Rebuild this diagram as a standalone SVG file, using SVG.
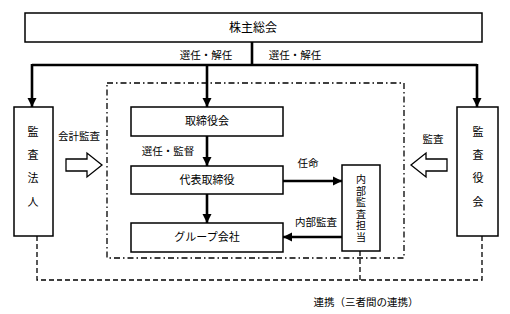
<svg xmlns="http://www.w3.org/2000/svg" width="510" height="314" viewBox="0 0 510 314">
<style>
text{font-family:"Noto Sans CJK JP","Noto Sans CJK SC",sans-serif;font-size:10.5px;fill:#000;text-anchor:middle}
.box{fill:#fff;stroke:#000;stroke-width:1.5}
.thick{fill:none;stroke:#000;stroke-width:2.6}
.dash{fill:none;stroke:#000;stroke-width:1.3;stroke-dasharray:5,3}
.dashdot{fill:none;stroke:#000;stroke-width:1.3;stroke-dasharray:6,3,1.5,3}
.hollow{fill:#fff;stroke:#000;stroke-width:1.3}
.v{font-size:11px}
.vert{font-size:10px;writing-mode:vertical-rl;text-orientation:upright;letter-spacing:1.6px}
</style>
<defs>
<marker id="ah" viewBox="0 0 10 10" refX="10" refY="5" markerWidth="3.6" markerHeight="3.6" orient="auto" markerUnits="strokeWidth">
<path d="M0,0 L10,5 L0,10 z" fill="#000"/>
</marker>
</defs>
<rect width="510" height="314" fill="#fff"/>
<g id="connectors">
<rect class="dashdot" x="107" y="83" width="297" height="175"/>
<polyline class="dash" points="37,236 37,280 482,280 482,236"/>
<line class="dash" x1="360" y1="251" x2="360" y2="280"/>
<polyline class="thick" points="252,42 252,65"/>
<polyline class="thick" points="32,65 477,65"/>
<line class="thick" x1="32" y1="64" x2="32" y2="107" marker-end="url(#ah)"/>
<line class="thick" x1="477" y1="64" x2="477" y2="107" marker-end="url(#ah)"/>
<line class="thick" x1="207" y1="65" x2="207" y2="107" marker-end="url(#ah)"/>
<line class="thick" x1="207" y1="136" x2="207" y2="166" marker-end="url(#ah)"/>
<line class="thick" x1="207" y1="194" x2="207" y2="223" marker-end="url(#ah)"/>
<line class="thick" x1="283" y1="181" x2="342" y2="181" marker-end="url(#ah)"/>
<line class="thick" x1="342" y1="237" x2="283" y2="237" marker-end="url(#ah)"/>
<path class="hollow" d="M66,159 L87,159 L87,153 L102,165 L87,177 L87,171 L66,171 Z"/>
<path class="hollow" d="M447,159 L426,159 L426,153 L411,165 L426,177 L426,171 L447,171 Z"/>
<text x="206" y="59">選任・解任</text>
<text x="295" y="59">選任・解任</text>
<text x="79" y="140">会計監査</text>
<text x="433" y="143">監査</text>
<text x="168" y="155">選任・監督</text>
<text x="308" y="167">任命</text>
<text x="316" y="226">内部監査</text>
<text x="366" y="306">連携（三者間の連携）</text>
</g>
<g id="shareholders">
<rect class="box" x="25" y="13" width="457" height="29"/>
<text x="253" y="32" style="font-size:12px">株主総会</text>
</g>
<g id="auditfirm">
<rect class="box" x="14" y="107" width="39" height="129"/>
<text class="v" x="33" y="136">監</text>
<text class="v" x="33" y="159">査</text>
<text class="v" x="33" y="182">法</text>
<text class="v" x="33" y="206">人</text>
</g>
<g id="auditboard">
<rect class="box" x="457" y="107" width="41" height="129"/>
<text class="v" x="478" y="136">監</text>
<text class="v" x="478" y="159">査</text>
<text class="v" x="478" y="182">役</text>
<text class="v" x="478" y="206">会</text>
</g>
<g id="board">
<rect class="box" x="131" y="107" width="152" height="29"/>
<text class="v" x="207" y="125">取締役会</text>
</g>
<g id="ceo">
<rect class="box" x="131" y="166" width="152" height="28"/>
<text class="v" x="207" y="184">代表取締役</text>
</g>
<g id="group">
<rect class="box" x="131" y="223" width="152" height="29"/>
<text class="v" x="207" y="241">グループ会社</text>
</g>
<g id="internalaudit">
<rect class="box" x="342" y="165" width="38" height="86"/>
<text class="vert" x="361" y="209">内部監査担当</text>
</g>
</svg>
